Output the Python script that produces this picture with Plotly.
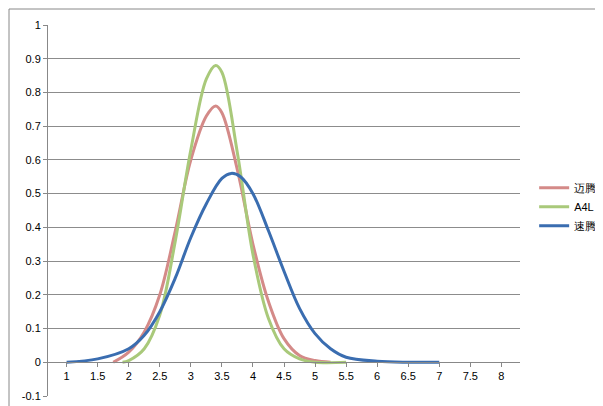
import plotly.graph_objects as go

x_red = [1.75, 2.0, 2.25, 2.5, 2.75, 3.0, 3.25, 3.4, 3.5, 3.75, 4.0, 4.25, 4.5, 4.75, 5.0, 5.25]
y_red = [0.0, 0.03, 0.09, 0.2, 0.39, 0.6, 0.73, 0.76, 0.74, 0.57, 0.35, 0.18, 0.07, 0.02, 0.005, 0.0]
x_green = [1.9, 2.0, 2.25, 2.5, 2.75, 3.0, 3.25, 3.4, 3.5, 3.75, 4.0, 4.25, 4.5, 4.75, 5.0, 5.5]
y_green = [0.0, 0.005, 0.04, 0.14, 0.36, 0.63, 0.84, 0.88, 0.86, 0.62, 0.32, 0.13, 0.04, 0.01, 0.0, 0.0]
x_blue = [1.0, 1.5, 2.0, 2.25, 2.5, 2.75, 3.0, 3.25, 3.5, 3.65, 3.8, 4.0, 4.25, 4.5, 4.75, 5.0, 5.25, 5.5, 6.0, 6.5, 7.0]
y_blue = [0.0, 0.01, 0.04, 0.08, 0.15, 0.25, 0.37, 0.47, 0.545, 0.56, 0.55, 0.5, 0.39, 0.27, 0.16, 0.085, 0.04, 0.015, 0.003, 0.0, 0.0]
x_ticks = [1, 1.5, 2, 2.5, 3, 3.5, 4, 4.5, 5, 5.5, 6, 6.5, 7, 7.5, 8]
y_ticks = [-0.1, 0, 0.1, 0.2, 0.3, 0.4, 0.5, 0.6, 0.7, 0.8, 0.9, 1]

fig = go.Figure()
for name, xs, ys, c in [("迈腾", x_red, y_red, "#D48A88"),
                        ("A4L", x_green, y_green, "#A9C97A"),
                        ("速腾", x_blue, y_blue, "#3A6DB0")]:
    fig.add_trace(go.Scatter(x=xs, y=ys, name=name, mode="lines",
                             line=dict(color=c, width=3, shape="spline", smoothing=1.0)))

fig.update_layout(
    width=603, height=406, paper_bgcolor="white", plot_bgcolor="white",
    margin=dict(l=40, r=91, t=17, b=18, autoexpand=False),
    font=dict(family="Liberation Sans, Arial", size=11, color="#000"),
    legend=dict(x=1.03, y=0.51, yanchor="middle", bgcolor="rgba(0,0,0,0)",
                font=dict(size=11), tracegroupgap=2),
    xaxis=dict(range=[0.7, 8.3], tickvals=x_ticks, ticktext=[str(t) for t in x_ticks],
               showgrid=False, zeroline=False, showline=True, linecolor="#888",
               anchor="free", position=1/11, ticks="outside", ticklen=4, tickcolor="#888",
               automargin=False),
    yaxis=dict(range=[-0.1, 1.0], tickvals=y_ticks, ticktext=[f"{v:g}" for v in y_ticks],
               showgrid=True, gridcolor="#8c8c8c", gridwidth=1, zeroline=False,
               showline=True, linecolor="#888", ticks="outside", ticklen=4,
               tickcolor="#888", automargin=False),
    shapes=[dict(type="rect", xref="paper", yref="paper", x0=-39/472, x1=1+90/472,
                 y0=-17/371, y1=1+16/371, line=dict(color="#888", width=1))],
)
fig.write_html("out.html")
